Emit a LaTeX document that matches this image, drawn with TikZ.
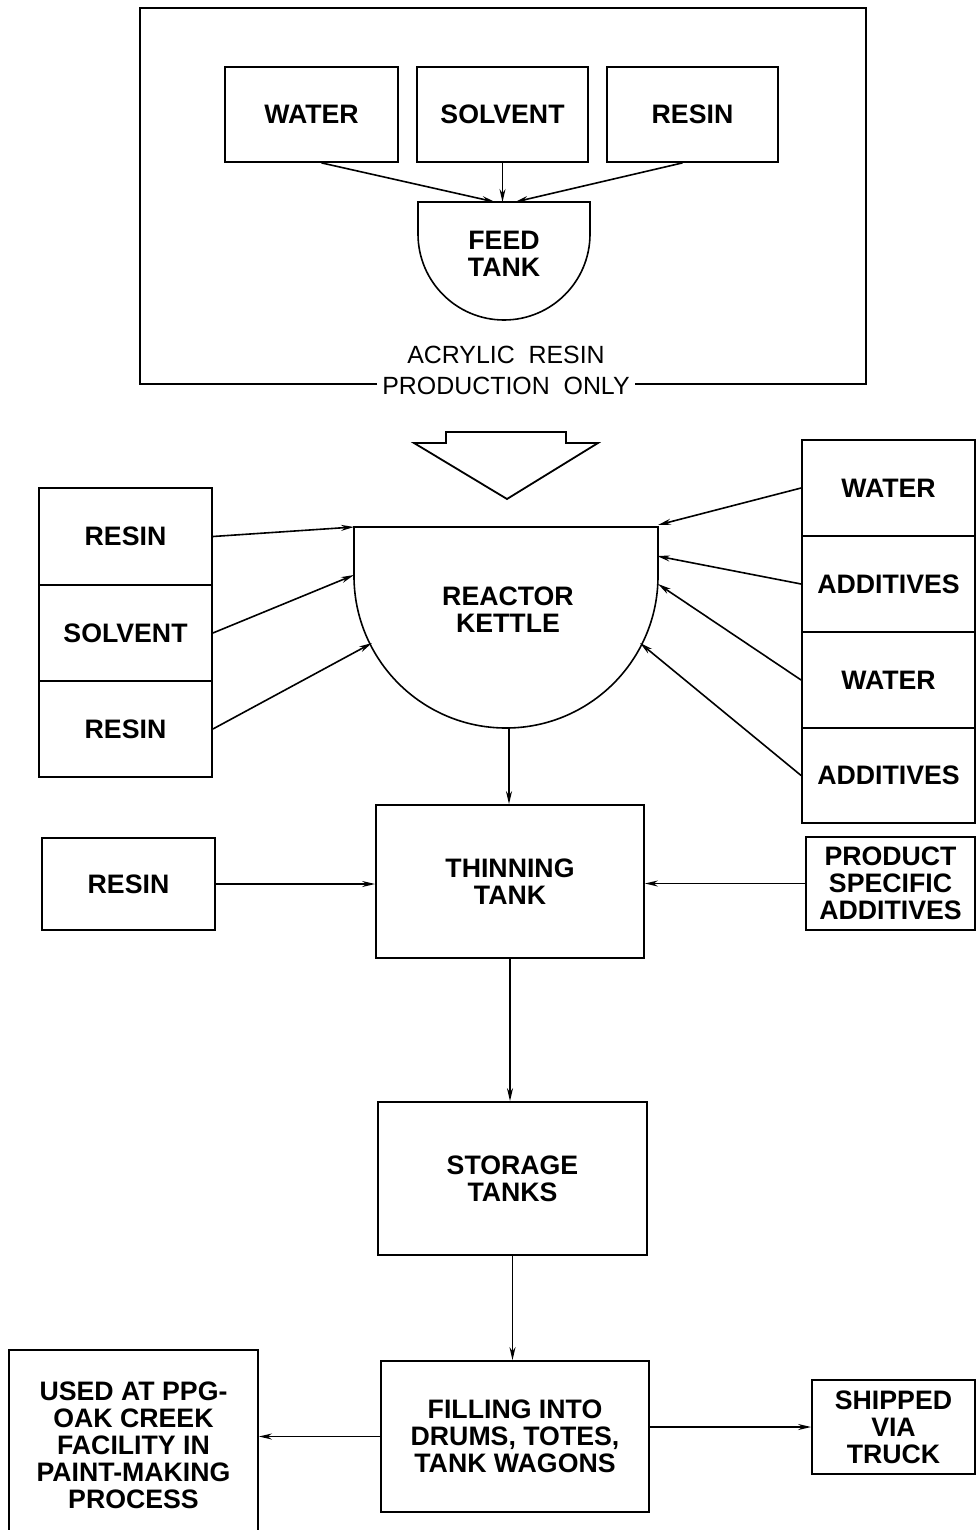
\documentclass[tikz,border=0pt]{standalone}
\usepackage{fontspec}
\setmainfont{Liberation Sans}
\usetikzlibrary{arrows.meta}
\begin{document}
\begin{tikzpicture}[x=1bp,y=-1bp,
  lbl/.style={font=\fontsize{26.8}{27}\selectfont\bfseries, align=center},
  box/.style={draw, line width=1.8bp, lbl, inner sep=0pt},
  flow/.style={line width=1.6bp, -{Stealth[length=13bp,width=6bp]}},
  thinlbl/.style={font=\fontsize{25}{30}\selectfont, align=center, inner sep=5bp},
  tank/.style={draw, line width=1.6bp}]
\clip (0,0) rectangle (976,1530);
\fill[white] (0,0) rectangle (976,1530);

% ---- top group ----
\node[box, minimum width=173bp, minimum height=95bp] (w1) at (311.5,114.5) {WATER};
\node[box, minimum width=171bp, minimum height=95bp] (s1) at (502.5,114.5) {SOLVENT};
\node[box, minimum width=171bp, minimum height=95bp] (r1) at (692.5,114.5) {RESIN};

\draw[tank] (418,202) -- (590,202) -- (590,234) arc[start angle=0,end angle=-180,radius=86bp] -- cycle;
\coordinate (ft) at (504,202);
\node[lbl] (feed) at (504,254) {FEED\\TANK};

\draw[flow] ([xshift=10bp]w1.south) -- ([xshift=-9bp]ft);
\draw[flow] (s1.south) -- (s1.south |- ft);
\draw[flow] ([xshift=-10bp]r1.south) -- ([xshift=11bp]ft);

\node[thinlbl] (t1) at (506,355) {ACRYLIC\ \ RESIN};
\node[thinlbl] (t2) at (506,386) {PRODUCTION\ \ ONLY};
\draw[line width=1.8bp] (t2.west |- 0,384) -| (140,8) -| (866,384) -- (t2.east |- 0,384);

% ---- big hollow arrow ----
\draw[line width=1.8bp, line join=miter] (446,443) -- (446,432) -- (566,432) -- (566,443) -- (598,443) -- (507,499) -- (414,443) -- cycle;

% ---- reactor kettle ----
\draw[tank] (354,527) -- (658,527) -- (658,576) arc[start angle=0,end angle=-180,radius=152bp] -- cycle;
\node[lbl] (kettle) at (508,610) {REACTOR\\KETTLE};
\coordinate (kl1) at (354,527);
\coordinate (kl2) at (354,575);
\coordinate (kl3) at (372,643);
\coordinate (kr1) at (658,525);
\coordinate (kr2) at (657,556);
\coordinate (kr3) at (658,584);
\coordinate (kr4) at (640,643);
\coordinate (kb) at (509,728);

\node[box, minimum width=173bp, minimum height=97bp] (l1) at (125.5,536.5) {RESIN};
\node[box, minimum width=173bp, minimum height=96bp] (l2) at (125.5,633) {SOLVENT};
\node[box, minimum width=173bp, minimum height=96bp] (l3) at (125.5,729) {RESIN};

\node[box, minimum width=173bp, minimum height=96bp] (q1) at (888.5,488) {WATER};
\node[box, minimum width=173bp, minimum height=96bp] (q2) at (888.5,584) {ADDITIVES};
\node[box, minimum width=173bp, minimum height=96bp] (q3) at (888.5,680) {WATER};
\node[box, minimum width=173bp, minimum height=95bp] (q4) at (888.5,775.5) {ADDITIVES};

\draw[flow] (l1.east) -- (kl1);
\draw[flow] (l2.east) -- (kl2);
\draw[flow] (l3.east) -- (kl3);
\draw[flow] (q1.west) -- (kr1);
\draw[flow] (q2.west) -- (kr2);
\draw[flow] (q3.west) -- (kr3);
\draw[flow] (q4.west) -- (kr4);

% ---- thinning tank row ----
\node[box, minimum width=268bp, minimum height=153bp] (thin) at (510,881.5) {THINNING\\TANK};
\node[box, minimum width=173bp, minimum height=92bp] (r3) at (128.5,884) {RESIN};
\node[box, minimum width=169bp, minimum height=93bp] (psa) at (890.5,883.5) {PRODUCT\\SPECIFIC\\ADDITIVES};

\draw[flow] (kb) -- (kb |- thin.north);
\draw[flow] (r3.east) -- (r3.east -| thin.west);
\draw[flow] (psa.west) -- (psa.west -| thin.east);

% ---- storage ----
\node[box, minimum width=269bp, minimum height=153bp] (stor) at (512.5,1178.5) {STORAGE\\TANKS};
\draw[flow] (thin.south) -- (thin.south |- stor.north);

% ---- filling ----
\node[box, minimum width=268bp, minimum height=151bp] (fill) at (515,1436.5) {FILLING INTO\\DRUMS, TOTES,\\TANK WAGONS};
\draw[flow] (stor.south) -- (stor.south |- fill.north);

\node[box, minimum width=249bp, minimum height=184bp] (used) at (133.5,1442) {};
\node[lbl] (usedtxt) at (133.5,1445) {USED AT PPG-\\OAK CREEK\\FACILITY IN\\PAINT-MAKING\\PROCESS};
\node[box, minimum width=163bp, minimum height=94bp] (ship) at (893.5,1427) {SHIPPED\\VIA\\TRUCK};

\draw[flow] (fill.west) -- (fill.west -| used.east);
\draw[flow] (fill.east |- ship.west) -- (ship.west);
\end{tikzpicture}
\end{document}
